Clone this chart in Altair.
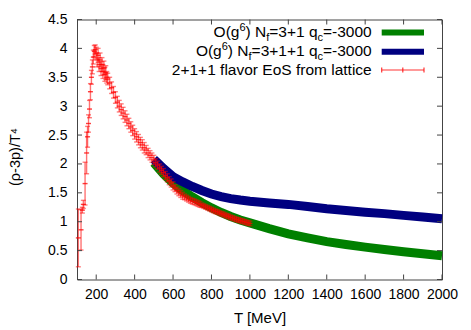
import altair as alt
import pandas as pd

# ---------------- data ----------------
lat_T = [107, 121, 128, 133, 142, 150, 155, 160, 165, 170, 175, 180, 185, 190, 195,
         200, 205, 210, 215, 220, 225, 230, 235, 240, 245, 250, 255, 260,
         270, 280, 290, 300, 310, 320, 330, 340, 350, 360, 370, 380, 390, 400,
         410, 420, 430, 440, 450, 460, 470, 480, 490, 500, 510, 520, 530, 540,
         550, 560, 570, 580, 590, 600, 610, 620, 630, 640, 650, 660, 670, 680,
         690, 700, 710, 720, 730, 740, 750, 760, 770, 780, 790, 800, 810, 820,
         830, 840, 850, 860, 870, 880, 890, 900, 910, 920, 930, 940, 950, 960,
         970, 980, 990, 1000]
lat_y = [0.72, 0.86, 1.20, 1.30, 1.66, 2.19, 2.47, 2.70, 2.95, 3.25, 3.50, 3.68, 3.85, 3.95, 3.98,
         3.92, 3.80, 3.88, 3.72, 3.80, 3.65, 3.72, 3.60, 3.66, 3.55, 3.58, 3.50, 3.47,
         3.40, 3.32, 3.24, 3.15, 3.07, 3.00, 2.94, 2.88, 2.82, 2.76, 2.70, 2.64, 2.58, 2.52,
         2.47, 2.42, 2.37, 2.33, 2.28, 2.24, 2.19, 2.15, 2.11, 2.07, 2.02, 1.98, 1.93, 1.89,
         1.85, 1.80, 1.76, 1.71, 1.67, 1.62, 1.58, 1.54, 1.51, 1.48, 1.45, 1.43, 1.41, 1.39,
         1.37, 1.355, 1.345, 1.33, 1.315, 1.30, 1.285, 1.27, 1.255, 1.24, 1.225, 1.21, 1.195, 1.18,
         1.17, 1.155, 1.14, 1.13, 1.115, 1.10, 1.09, 1.075, 1.065, 1.05, 1.04, 1.03, 1.02, 1.01,
         1.00, 0.99, 0.98, 0.97]
lat_err = [0.50, 0.35, 0.05, 0.07, 0.37, 0.36, 0.18, 0.15, 0.15, 0.14, 0.12, 0.12, 0.12, 0.10, 0.08,
           0.10, 0.12, 0.12, 0.12, 0.12, 0.12, 0.12, 0.12, 0.12, 0.12, 0.12, 0.10, 0.10,
           0.10, 0.10, 0.10, 0.10, 0.10, 0.10, 0.10, 0.10, 0.10, 0.10, 0.09, 0.09, 0.09, 0.09,
           0.09, 0.09, 0.09, 0.09, 0.09, 0.08, 0.08, 0.08, 0.08, 0.08, 0.07, 0.07, 0.07, 0.07,
           0.07, 0.07, 0.07, 0.07, 0.07, 0.07, 0.06, 0.06, 0.06, 0.06, 0.06, 0.05, 0.05, 0.05,
           0.05, 0.05, 0.05, 0.05, 0.05, 0.05, 0.04, 0.04, 0.04, 0.04, 0.04, 0.04, 0.04, 0.04,
           0.04, 0.04, 0.04, 0.04, 0.04, 0.04, 0.04, 0.04, 0.04, 0.04, 0.04, 0.04, 0.04, 0.04,
           0.04, 0.04, 0.04, 0.04]

curve_T = [500, 550, 600, 650, 700, 750, 800, 850, 900, 950, 1000, 1100, 1200, 1300,
           1400, 1500, 1600, 1700, 1800, 1900, 2000]
green_y = [2.02, 1.83, 1.67, 1.54, 1.43, 1.33, 1.24, 1.16, 1.09, 1.03, 0.98, 0.88, 0.79, 0.72,
           0.655, 0.605, 0.56, 0.52, 0.48, 0.445, 0.41]
blue_y = [2.08, 1.92, 1.78, 1.69, 1.61, 1.54, 1.48, 1.435, 1.40, 1.375, 1.355, 1.325, 1.30, 1.265,
          1.225, 1.195, 1.165, 1.14, 1.11, 1.08, 1.05]

x_ticks = [200, 400, 600, 800, 1000, 1200, 1400, 1600, 1800, 2000]
y_ticks = [0, 0.5, 1, 1.5, 2, 2.5, 3, 3.5, 4, 4.5]

label_green = [("O(g", "n"), ("6", "sup"), (") N", "n"), ("f", "sub"), ("=3+1 q", "n"), ("c", "sub"), ("=-3000", "n")]
label_blue = [("O(g", "n"), ("6", "sup"), (") N", "n"), ("f", "sub"), ("=3+1+1 q", "n"), ("c", "sub"), ("=-3000", "n")]
label_red = [("2+1+1 flavor EoS from lattice", "n")]

# ---------------- layout ----------------
W, H = 365, 260
FONT = "Liberation Sans"
GREEN = "#008000"
BLUE = "#000080"
RED = "#ff0000"
FRAME = "#444444"

xs = alt.Scale(domain=[100, 2000], nice=False, zero=False)
ys = alt.Scale(domain=[0, 4.5], nice=False, zero=False)
xax = alt.Axis(values=x_ticks, format="d", domain=False, ticks=False, grid=False, title=None,
               labelFontSize=14, labelFont=FONT, labelColor="black", labelPadding=8,
               labelFlush=False, labelOverlap=False)
yax = alt.Axis(values=y_ticks, format="~g", domain=False, ticks=False, grid=False, title=None,
               labelFontSize=14, labelFont=FONT, labelColor="black", labelPadding=10,
               labelFlush=False, labelOverlap=False)

curves = pd.DataFrame({"T": curve_T + curve_T,
                       "y": green_y + blue_y,
                       "s": ["g"] * len(curve_T) + ["b"] * len(curve_T)})
lat = pd.DataFrame({"T": lat_T, "y": lat_y, "err": lat_err})

X = alt.X("T:Q", scale=xs, axis=xax)
Y = alt.Y("y:Q", scale=ys, axis=yax)

green = alt.Chart(curves).transform_filter("datum.s == 'g'").mark_line(
    color=GREEN, strokeWidth=9).encode(x=X, y=Y)
blue = alt.Chart(curves).transform_filter("datum.s == 'b'").mark_line(
    color=BLUE, strokeWidth=9).encode(x=X, y=Y)

latc = alt.Chart(lat).transform_calculate(lo="datum.y - datum.err", hi="datum.y + datum.err")
bars = latc.mark_rule(color=RED, strokeWidth=1.4, opacity=0.55).encode(
    x=X, y=alt.Y("lo:Q", scale=ys, axis=yax), y2="hi:Q")


def hstroke(field, op):
    # short horizontal stroke (cap or "+" arm) centred on each data point
    return latc.mark_rule(color=RED, strokeWidth=1.4, opacity=op, xOffset=-2.5, x2Offset=2.5).encode(
        x=X, x2="T:Q", y=alt.Y(field + ":Q", scale=ys, axis=yax))


cap_lo = hstroke("lo", 0.5)
cap_hi = hstroke("hi", 0.5)
pt_h = hstroke("y", 0.75)

# inward ticks (mirrored on all four sides)
xt = pd.DataFrame({"T": x_ticks})
yt = pd.DataFrame({"y": y_ticks})
TL = 5
tb = alt.Chart(xt).mark_rule(color=FRAME, strokeWidth=1).encode(x=X, y=alt.value(H), y2=alt.value(H - TL))
tt = alt.Chart(xt).mark_rule(color=FRAME, strokeWidth=1).encode(x=X, y=alt.value(0), y2=alt.value(TL))
tl = alt.Chart(yt).mark_rule(color=FRAME, strokeWidth=1).encode(y=Y, x=alt.value(0), x2=alt.value(TL))
tr = alt.Chart(yt).mark_rule(color=FRAME, strokeWidth=1).encode(y=Y, x=alt.value(W), x2=alt.value(W - TL))

# ---------------- legend (rich text pieces) ----------------
AW = {'O': 778, '(': 333, 'g': 556, ')': 333, ' ': 278, 'N': 722, 'f': 278, '=': 584,
      '3': 556, '+': 584, '1': 556, 'q': 556, 'c': 500, '-': 333, '0': 556, '6': 556,
      '2': 556, 'l': 222, 'a': 556, 'v': 500, 'o': 556, 'r': 333, 'E': 667, 'S': 667,
      'm': 833, 't': 278, 'i': 222, 'e': 556}
LFS = 15.5
SFS = 11


def tw(s, fs):
    return sum(AW.get(c, 556) for c in s) * fs / 1000.0


dummy = pd.DataFrame({"a": [0]})
RIGHT = 294.7
legend_layers = []
rows = [(label_green, 17.5, 13.0, GREEN), (label_blue, 36.5, 32.2, BLUE), (label_red, 55.5, 50.5, RED)]
for pieces, base, cy, col in rows:
    total = sum(tw(t, LFS if k == "n" else SFS) for t, k in pieces)
    xpos = RIGHT - total
    for t, k in pieces:
        fs = LFS if k == "n" else SFS
        dy = 0 if k == "n" else (-6.5 if k == "sup" else 3.5)
        legend_layers.append(
            alt.Chart(dummy).mark_text(text=t, align="left", baseline="alphabetic",
                                       font=FONT, fontSize=fs, color="black").encode(
                x=alt.value(xpos), y=alt.value(base + dy)))
        xpos += tw(t, fs)
    if col != RED:
        legend_layers.append(alt.Chart(dummy).mark_rule(color=col, strokeWidth=6).encode(
            x=alt.value(304.7), x2=alt.value(347), y=alt.value(cy)))
    else:
        legend_layers.append(alt.Chart(dummy).mark_rule(color=RED, strokeWidth=1.2, opacity=0.8).encode(
            x=alt.value(304.7), x2=alt.value(347), y=alt.value(cy)))
        for xv in (304.7, 325.8, 347):
            legend_layers.append(alt.Chart(dummy).mark_rule(color=RED, strokeWidth=1.2, opacity=0.8).encode(
                x=alt.value(xv), y=alt.value(cy - 2.5), y2=alt.value(cy + 2.5)))

# ---------------- titles ----------------
ytitle = alt.Chart(dummy).mark_text(text="(ρ-3p)/T⁴", angle=270, align="center", baseline="middle",
                                    font=FONT, fontSize=14.5, color="black").encode(
    x=alt.value(-61), y=alt.value(137.5))
xtitle = alt.Chart(dummy).mark_text(text="T [MeV]", align="center", baseline="middle",
                                    font=FONT, fontSize=15, color="black").encode(
    x=alt.value(183), y=alt.value(298))

chart = alt.layer(green, blue, bars, cap_lo, cap_hi, pt_h, tb, tt, tl, tr,
                  *legend_layers, ytitle, xtitle).properties(
    width=W, height=H,
    autosize=alt.AutoSizeParams(type="none"),
    padding={"left": 69, "top": 11.5, "right": 21, "bottom": 49},
    background="white",
).configure_view(stroke=FRAME, strokeWidth=1)

chart.save("out.html", embed_options={"renderer": "svg", "actions": False})
